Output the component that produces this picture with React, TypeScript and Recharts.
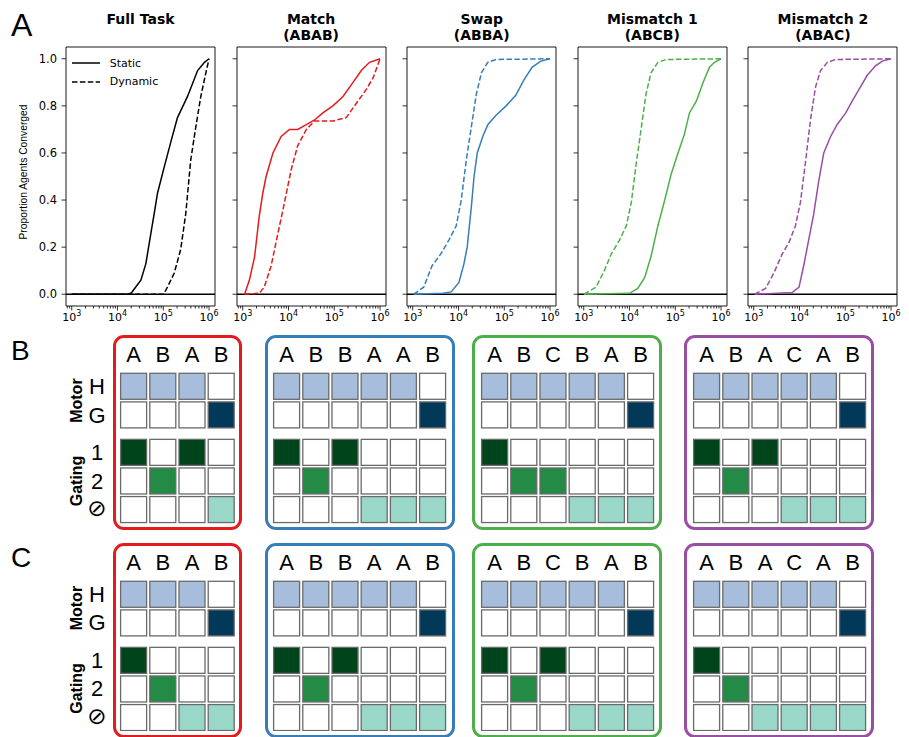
import React from 'react';
import {
  LineChart,
  Line,
  XAxis,
  YAxis,
  ReferenceLine,
  ReferenceArea,
  Legend,
  ScatterChart,
  Scatter,
} from 'recharts';

// ---------- Panel A: [training steps, proportion of agents converged] ----------
const fullStatic = [
  [1000, 0], [16600, 0], [20000, 0.005], [32400, 0.06], [41700, 0.13], [53700, 0.26],
  [63100, 0.34], [75000, 0.43], [104700, 0.54], [147900, 0.65], [204200, 0.75],
  [338800, 0.84], [562300, 0.95], [794300, 0.985], [1000000, 1.0],
];
const fullDynamic = [
  [1000, 0], [102300, 0], [123000, 0.03], [173800, 0.09], [239900, 0.19], [309000, 0.34],
  [398100, 0.57], [512900, 0.71], [660700, 0.84], [851100, 0.94], [1000000, 1.0],
];
const matchStatic = [
  [1100, 0], [1400, 0.06], [1820, 0.16], [2290, 0.33], [2750, 0.43], [3240, 0.5],
  [4570, 0.6], [6920, 0.67], [10470, 0.7], [15850, 0.7], [24550, 0.72], [37150, 0.74],
  [56230, 0.77], [93330, 0.8], [154900, 0.84], [257000, 0.9], [389000, 0.95],
  [588800, 0.985], [1000000, 1.0],
];
const matchDynamic = [
  [1100, 0], [2290, 0.004], [2950, 0.03], [4170, 0.12], [5890, 0.26], [7590, 0.36],
  [11480, 0.53], [15850, 0.63], [24550, 0.7], [37150, 0.736], [56230, 0.736],
  [93330, 0.736], [182000, 0.75], [302000, 0.81], [501200, 0.87], [708000, 0.92],
  [1000000, 1.0],
];
const swapStatic = [
  [1050, 0], [4570, 0.004], [6920, 0.01], [10230, 0.05], [13180, 0.13], [15490, 0.2],
  [19050, 0.37], [21880, 0.5], [25700, 0.6], [33880, 0.67], [43650, 0.72], [66070, 0.76],
  [109600, 0.8], [177800, 0.845], [269200, 0.91], [407400, 0.965], [631000, 0.99],
  [1000000, 1.0],
];
const swapDynamic = [
  [1050, 0], [1740, 0.03], [2630, 0.12], [4070, 0.17], [6170, 0.23], [8910, 0.29],
  [11480, 0.4], [14790, 0.57], [19050, 0.71], [24550, 0.85], [31620, 0.94],
  [43650, 0.985], [66070, 0.997], [1000000, 1.0],
];
const mis1Static = [
  [1020, 0], [10000, 0.004], [15140, 0.025], [21380, 0.07], [29510, 0.16], [41690, 0.29],
  [58880, 0.4], [81280, 0.51], [114800, 0.6], [158500, 0.68], [204200, 0.77],
  [288400, 0.82], [407400, 0.9], [562300, 0.965], [724400, 0.985], [1000000, 1.0],
];
const mis1Dynamic = [
  [1020, 0], [1860, 0.03], [2820, 0.1], [3980, 0.17], [6030, 0.23], [8510, 0.29],
  [10960, 0.39], [14130, 0.56], [18200, 0.71], [22910, 0.85], [29510, 0.94],
  [41690, 0.985], [63100, 0.997], [1000000, 1.0],
];
const mis2Static = [
  [1050, 0], [6920, 0.007], [9770, 0.03], [12300, 0.12], [15850, 0.23], [20420, 0.34],
  [26300, 0.48], [33880, 0.6], [47860, 0.67], [66070, 0.72], [102300, 0.77],
  [141300, 0.82], [199500, 0.87], [302000, 0.93], [457100, 0.97], [645700, 0.99],
  [1000000, 1.0],
];
const mis2Dynamic = [
  [1050, 0], [1820, 0.025], [2750, 0.09], [4170, 0.17], [5890, 0.22], [8130, 0.29],
  [10470, 0.39], [13490, 0.56], [17380, 0.74], [22390, 0.88], [28840, 0.95],
  [40740, 0.985], [61660, 0.997], [1000000, 1.0],
];

const curveTitles = [
  ['Full Task'],
  ['Match', '(ABAB)'],
  ['Swap', '(ABBA)'],
  ['Mismatch 1', '(ABCB)'],
  ['Mismatch 2', '(ABAC)'],
];
const curveColors = ['#000000', '#e41a1c', '#377eb8', '#4daf4a', '#984ea3'];
const staticSeries = [fullStatic, matchStatic, swapStatic, mis1Static, mis2Static];
const dynamicSeries = [fullDynamic, matchDynamic, swapDynamic, mis1Dynamic, mis2Dynamic];
const legendNames = ['Static', 'Dynamic'];

const yTicks = [0, 0.2, 0.4, 0.6, 0.8, 1.0];
const xTicks = [
  800, 900,
  1000, 2000, 3000, 4000, 5000, 6000, 7000, 8000, 9000,
  10000, 20000, 30000, 40000, 50000, 60000, 70000, 80000, 90000,
  100000, 200000, 300000, 400000, 500000, 600000, 700000, 800000, 900000,
  1000000,
];
const xMajor = [1000, 10000, 100000, 1000000];

// ---------- Panels B and C: sequence tables ----------
const seqMatch = ['A', 'B', 'A', 'B'];
const seqSwap = ['A', 'B', 'B', 'A', 'A', 'B'];
const seqMis1 = ['A', 'B', 'C', 'B', 'A', 'B'];
const seqMis2 = ['A', 'B', 'A', 'C', 'A', 'B'];

const rowLabels = ['H', 'G', '1', '2', '⊘'];

const motor4 = ['H', 'H', 'H', 'G'];
const motor6 = ['H', 'H', 'H', 'H', 'H', 'G'];

const gatesBMatch = ['1', '2', '1', '⊘'];
const gatesBSwap = ['1', '2', '1', '⊘', '⊘', '⊘'];
const gatesBMis1 = ['1', '2', '2', '⊘', '⊘', '⊘'];
const gatesBMis2 = ['1', '2', '1', '⊘', '⊘', '⊘'];

const gatesCMatch = ['1', '2', '⊘', '⊘'];
const gatesCSwap = ['1', '2', '1', '⊘', '⊘', '⊘'];
const gatesCMis1 = ['1', '2', '1', '⊘', '⊘', '⊘'];
const gatesCMis2 = ['1', '2', '⊘', '⊘', '⊘', '⊘'];

const tableSeqs = [seqMatch, seqSwap, seqMis1, seqMis2];
const tableMotor = [motor4, motor6, motor6, motor6];
const gatesB = [gatesBMatch, gatesBSwap, gatesBMis1, gatesBMis2];
const gatesC = [gatesCMatch, gatesCSwap, gatesCMis1, gatesCMis2];

const cellColors: Record<string, string> = {
  H: '#a6bddb',
  G: '#023858',
  '1': '#00441b',
  '2': '#238b45',
  '⊘': '#99d8c9',
};

// ---------- layout ----------
const PLOT_LEFT0 = 66;
const PLOT_STEP = 170.6;
const PLOT_W = 149;
const PLOT_TOP = 47;
const PLOT_H = 259;
const Y_AXIS_W = 40;
const X_AXIS_H = 30;
const X_MIN = 750;
const X_MAX = 1349000;

const BOX_LEFT = [113.3, 265, 472.3, 684.3];
const FIRST_COL = [120.7, 274, 481.7, 693.3];
const COL_PITCH = 29.2;
const ROW_PITCH = 28.6;
const CELL = 26;
const ROW_POS = [0, 1, 2.31, 3.31, 4.31];
const H_CENTER = 386.3;
const PANEL_OFFSET = [0, 207.5];
const TOP_AXIS_H = 30;

const SANS = 'Liberation Sans, Arial, sans-serif';
const MPL = 'DejaVu Sans, sans-serif';

const toPoints = (rows: number[][]) => rows.map(([x, y]) => ({ x, y }));

const LogTick = (props: any) => {
  const { x, y, payload } = props;
  const v = payload.value;
  const major = xMajor.includes(v);
  return (
    <g>
      <line x1={x} x2={x} y1={y} y2={y + (major ? 4.5 : 2.5)} stroke="#000" strokeWidth={0.8} />
      {major && (
        <text x={x} y={y + 15} textAnchor="middle" fontSize={11} fontFamily={MPL} fill="#000">
          10
          <tspan dy={-5} fontSize={8}>
            {Math.round(Math.log10(v))}
          </tspan>
        </text>
      )}
    </g>
  );
};

const ValueTick = (props: any) => {
  const { x, y, payload, showLabel } = props;
  return (
    <g>
      <line x1={x - 4.5} x2={x} y1={y} y2={y} stroke="#000" strokeWidth={0.8} />
      {showLabel && (
        <text x={x - 9} y={y} dy="0.36em" textAnchor="end" fontSize={11.5} fontFamily={MPL} fill="#000">
          {payload.value.toFixed(1)}
        </text>
      )}
    </g>
  );
};

const CurveLegend = () => (
  <div style={{ fontFamily: MPL, fontSize: 11, color: '#000' }}>
    {legendNames.map((name, i) => (
      <div key={name} style={{ display: 'flex', alignItems: 'center', height: 18.4 }}>
        <svg width={28} height={4}>
          <line
            x1={0}
            x2={28}
            y1={2}
            y2={2}
            stroke="#000"
            strokeWidth={1.5}
            strokeDasharray={i === 1 ? '5.5 2.4' : undefined}
          />
        </svg>
        <span style={{ marginLeft: 10 }}>{name}</span>
      </div>
    ))}
  </div>
);

const CurvePanel = ({ idx }: { idx: number }) => {
  const plotLeft = PLOT_LEFT0 + idx * PLOT_STEP;
  const color = curveColors[idx];
  return (
    <div style={{ position: 'absolute', left: plotLeft - Y_AXIS_W, top: 0 }}>
      <LineChart
        width={Y_AXIS_W + PLOT_W + 4}
        height={PLOT_TOP + PLOT_H + X_AXIS_H}
        margin={{ top: PLOT_TOP, right: 4, bottom: 0, left: 0 }}
      >
        <XAxis
          dataKey="x"
          type="number"
          scale="log"
          domain={[X_MIN, X_MAX]}
          allowDataOverflow
          ticks={xTicks}
          interval={0}
          height={X_AXIS_H}
          tickSize={0}
          tickMargin={0}
          axisLine={false}
          tickLine={false}
          tick={LogTick}
        />
        <YAxis
          type="number"
          domain={[-0.05, 1.05]}
          allowDataOverflow
          ticks={yTicks}
          interval={0}
          width={Y_AXIS_W}
          tickSize={0}
          tickMargin={0}
          axisLine={false}
          tickLine={false}
          tick={(p: any) => <ValueTick {...p} showLabel={idx === 0} />}
        />
        <ReferenceLine y={0} stroke="#000" strokeWidth={1.3} />
        <Line
          data={toPoints(staticSeries[idx])}
          dataKey="y"
          name={legendNames[0]}
          type="linear"
          stroke={color}
          strokeWidth={1.5}
          dot={false}
          isAnimationActive={false}
        />
        <Line
          data={toPoints(dynamicSeries[idx])}
          dataKey="y"
          name={legendNames[1]}
          type="linear"
          stroke={color}
          strokeWidth={1.5}
          strokeDasharray="5.5 2.4"
          dot={false}
          isAnimationActive={false}
        />
        <ReferenceArea
          x1={X_MIN}
          x2={X_MAX}
          y1={-0.05}
          y2={1.05}
          fill="none"
          fillOpacity={0}
          stroke="#000"
          strokeWidth={0.9}
          ifOverflow="visible"
        />
        {idx === 0 && (
          <Legend
            layout="vertical"
            align="center"
            verticalAlign="middle"
            content={() => <CurveLegend />}
            wrapperStyle={{ left: 45.7, top: 54, width: 'auto', height: 'auto' }}
          />
        )}
      </LineChart>
    </div>
  );
};

const SequenceTable = ({ j, panel }: { j: number; panel: number }) => {
  const off = PANEL_OFFSET[panel];
  const seq = tableSeqs[j];
  const motor = tableMotor[j];
  const gates = panel === 0 ? gatesB[j] : gatesC[j];
  const n = seq.length;
  const boxColor = curveColors[j + 1];
  const cells = seq.flatMap((_, c) =>
    rowLabels.map((label, r) => ({
      x: c,
      y: ROW_POS[r],
      row: label,
      on: motor[c] === label || gates[c] === label,
    }))
  );
  const plotTop = H_CENTER + off - ROW_PITCH / 2;
  const plotH = (ROW_POS[4] + 1) * ROW_PITCH;
  const boxW = n === 4 ? 129 : 190;
  return (
    <>
      <div
        style={{
          position: 'absolute',
          left: BOX_LEFT[j],
          top: 335 + off,
          width: boxW,
          height: 195,
          border: `3px solid ${boxColor}`,
          borderRadius: 11,
          boxSizing: 'border-box',
        }}
      />
      <div
        style={{
          position: 'absolute',
          left: FIRST_COL[j] - (COL_PITCH - CELL) / 2,
          top: plotTop - TOP_AXIS_H,
        }}
      >
        <ScatterChart
          width={n * COL_PITCH}
          height={TOP_AXIS_H + plotH}
          margin={{ top: 0, right: 0, bottom: 0, left: 0 }}
        >
          <XAxis
            dataKey="x"
            type="number"
            orientation="top"
            domain={[-0.5, n - 0.5]}
            ticks={seq.map((_, c) => c)}
            interval={0}
            height={TOP_AXIS_H}
            tickSize={0}
            tickMargin={0}
            axisLine={false}
            tickLine={false}
            tick={(p: any) => (
              <text x={p.x} y={p.y - 10.3} textAnchor="middle" fontSize={22} fontFamily={SANS} fill="#000">
                {seq[p.payload.value]}
              </text>
            )}
          />
          <YAxis dataKey="y" type="number" domain={[-0.5, ROW_POS[4] + 0.5]} reversed hide />
          <Scatter
            data={cells}
            isAnimationActive={false}
            shape={(p: any) => (
              <rect
                x={p.cx - CELL / 2}
                y={p.cy - CELL / 2}
                width={CELL}
                height={CELL}
                fill={p.payload.on ? cellColors[p.payload.row] : '#ffffff'}
                stroke="#6a6a6a"
                strokeWidth={1.3}
              />
            )}
          />
        </ScatterChart>
      </div>
    </>
  );
};

const Overlay = () => (
  <svg
    width={909}
    height={737}
    style={{ position: 'absolute', left: 0, top: 0, pointerEvents: 'none' }}
  >
    <text x={11} y={36} fontSize={32} fontFamily={SANS} fill="#000">A</text>
    <text x={11} y={359.5} fontSize={28} fontFamily={SANS} fill="#000">B</text>
    <text x={11} y={566.5} fontSize={28} fontFamily={SANS} fill="#000">C</text>

    {curveTitles.map((lines, i) => {
      const cx = PLOT_LEFT0 + i * PLOT_STEP + PLOT_W / 2;
      return lines.map((t, k) => (
        <text
          key={`${i}-${k}`}
          x={cx}
          y={24 + k * 16}
          textAnchor="middle"
          fontSize={14}
          fontWeight="bold"
          fontFamily={MPL}
          fill="#000"
        >
          {t}
        </text>
      ));
    })}

    <text
      transform="translate(23,172) rotate(-90)"
      textAnchor="middle"
      dy="0.36em"
      fontSize={10.3}
      fontFamily={SANS}
      fill="#000"
    >
      Proportion Agents Converged
    </text>

    {PANEL_OFFSET.map((off, p) => (
      <g key={p}>
        {rowLabels.map((label, r) => {
          const isNull = r === rowLabels.length - 1;
          return (
            <text
              key={label}
              x={97}
              y={H_CENTER + off + ROW_POS[r] * ROW_PITCH}
              dy={isNull ? '0.3em' : '0.36em'}
              textAnchor="middle"
              fontSize={isNull ? 23 : 22}
              fontFamily={isNull ? MPL : SANS}
              fill="#000"
            >
              {label}
            </text>
          );
        })}
        <text
          transform={`translate(76,${H_CENTER + off + 0.5 * ROW_PITCH}) rotate(-90)`}
          textAnchor="middle"
          dy="0.36em"
          fontSize={16}
          fontWeight="bold"
          fontFamily={SANS}
          fill="#000"
        >
          Motor
        </text>
        <text
          transform={`translate(76,${H_CENTER + off + ((ROW_POS[2] + ROW_POS[4]) / 2) * ROW_PITCH}) rotate(-90)`}
          textAnchor="middle"
          dy="0.36em"
          fontSize={16}
          fontWeight="bold"
          fontFamily={SANS}
          fill="#000"
        >
          Gating
        </text>
      </g>
    ))}
  </svg>
);

export default function App() {
  return (
    <div
      style={{
        position: 'absolute',
        left: 0,
        top: 0,
        width: 909,
        height: 737,
        background: '#fff',
        overflow: 'hidden',
      }}
    >
      {curveTitles.map((_, i) => (
        <CurvePanel key={i} idx={i} />
      ))}
      {PANEL_OFFSET.map((_, p) =>
        tableSeqs.map((__, j) => <SequenceTable key={`${p}-${j}`} j={j} panel={p} />)
      )}
      <Overlay />
    </div>
  );
}
